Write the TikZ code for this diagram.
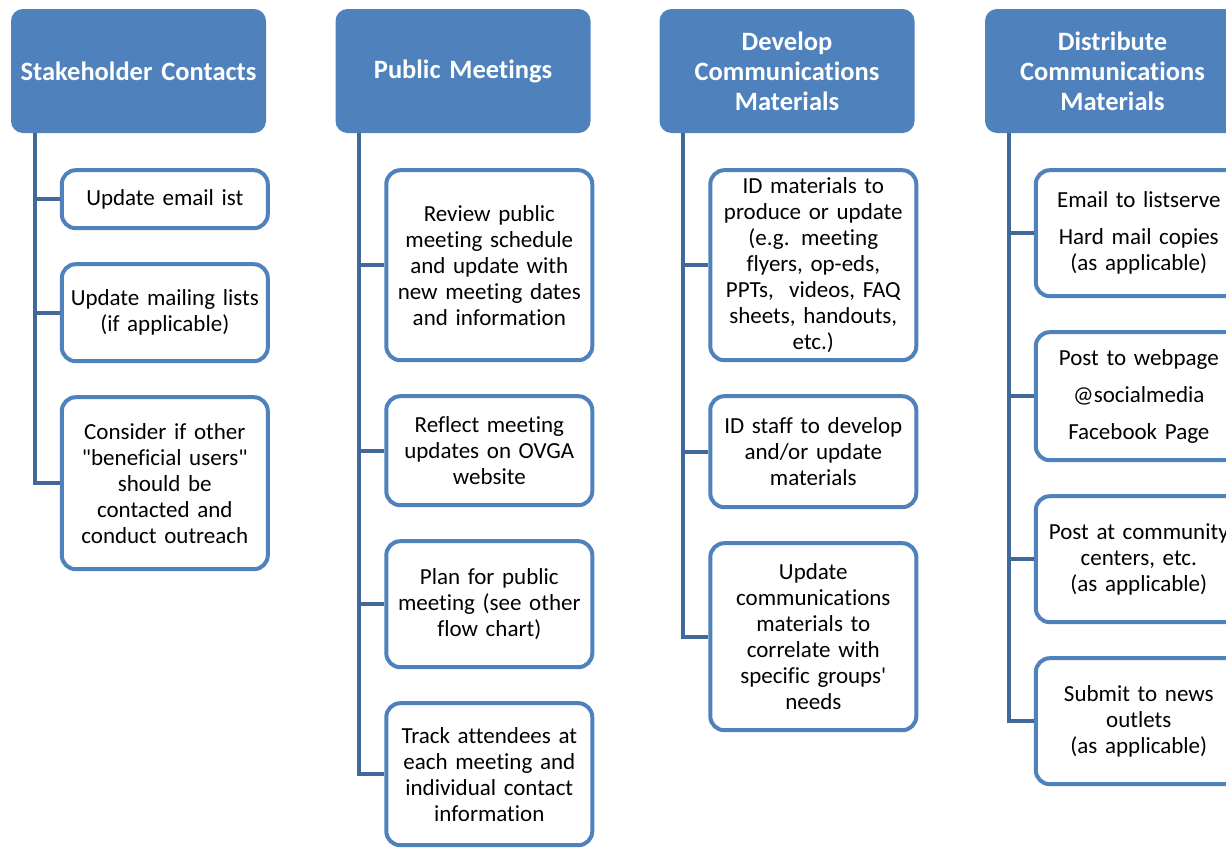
\documentclass[tikz,border=0pt]{standalone}
\usepackage{fontspec}
\setmainfont{Carlito}[Ligatures={NoCommon}]
\usepackage{tikz}
\usetikzlibrary{positioning}
\definecolor{hdrblue}{HTML}{4F81BD}
\definecolor{boxblue}{HTML}{4F81BD}
\definecolor{trunkblue}{HTML}{41699B}

\begin{document}
\begin{tikzpicture}[x=1pt, y=-1pt,
	header/.style={rectangle, rounded corners=12pt, fill=hdrblue, text=white, minimum width=255pt, minimum height=124pt, text width=252pt, align=center, inner sep=0pt, font=\fontsize{26.5}{30}\selectfont\bfseries},
	task/.style={rectangle, rounded corners=14pt, draw=boxblue, line width=4pt, fill=white, minimum width=206pt, text width=204pt, align=center, inner sep=0pt, font=\fontsize{23}{26}\selectfont},
	trunk/.style={draw=trunkblue, line width=4pt},
	node distance=32pt]
	\useasboundingbox (0,0) rectangle (1226,849);
	\clip (0,0) rectangle (1226,849);

	\node[header](h_sc) at (138.5,71){Stakeholder Contacts};
	\node[header](h_pm) at (463,71){Public Meetings};
	\node[header](h_dev) at (787,71){Develop\\Communications\\Materials};
	\node[header](h_dist) at (1112.5,71){Distribute\\Communications\\Materials};

	% stakeholder contacts
	\node[task, minimum height=58pt, below right=35pt and 49pt of h_sc.south west](sc_1){Update email ist};
	\node[task, minimum height=97pt, below=of sc_1](sc_2){Update mailing lists\\(if applicable)};
	\node[task, minimum height=172pt, below=of sc_2](sc_3){Consider if other\\\textquotedbl beneficial users\textquotedbl\\should be\\contacted and\\conduct outreach};

	\coordinate (t_sc) at ([xshift=24pt]h_sc.south west);
	\draw[trunk] (t_sc) |- (sc_3.west);
	\foreach \b in {sc_1, sc_2}
		\draw[trunk] (t_sc |- \b.west) -- (\b.west);

	% public meetings
	\node[task, minimum height=190pt, below right=35pt and 49pt of h_pm.south west](pm_1){Review public\\meeting schedule\\and update with\\new meeting dates\\and information};
	\node[task, minimum height=109pt, below=of pm_1](pm_2){Reflect meeting\\updates on OVGA\\website};
	\node[task, minimum height=126pt, below=of pm_2](pm_3){Plan for public\\meeting (see other\\flow chart)};
	\node[task, minimum height=142pt, below=of pm_3](pm_4){Track attendees at\\each meeting and\\individual contact\\information};

	\coordinate (t_pm) at ([xshift=24pt]h_pm.south west);
	\draw[trunk] (t_pm) |- (pm_4.west);
	\foreach \b in {pm_1, pm_2, pm_3}
		\draw[trunk] (t_pm |- \b.west) -- (\b.west);

	% develop materials
	\node[task, minimum height=190pt, below right=35pt and 49pt of h_dev.south west](dev_1){ID materials to\\produce or update\\(e.g. meeting\\flyers, op-eds,\\PPTs,~ videos, FAQ\\sheets, handouts,\\etc.)};
	\node[task, minimum height=111pt, below=of dev_1](dev_2){ID staff to develop\\and/or update\\materials};
	\node[task, minimum height=187pt, below=of dev_2](dev_3){Update\\communications\\materials to\\correlate with\\specific groups\textquotesingle\\needs};

	\coordinate (t_dev) at ([xshift=24pt]h_dev.south west);
	\draw[trunk] (t_dev) |- (dev_3.west);
	\foreach \b in {dev_1, dev_2}
		\draw[trunk] (t_dev |- \b.west) -- (\b.west);

	% distribute materials
	\node[task, minimum height=126pt, below right=35pt and 49pt of h_dist.south west](dist_1){Email to listserve\\[11pt]Hard mail copies\\(as applicable)};
	\node[task, minimum height=128pt, below=of dist_1](dist_2){Post to webpage\\[11pt]@socialmedia\\[11pt]Facebook Page};
	\node[task, minimum height=126pt, below=of dist_2](dist_3){Post at community\\centers, etc.\\(as applicable)};
	\node[task, minimum height=126pt, below=of dist_3](dist_4){Submit to news\\outlets\\(as applicable)};

	\coordinate (t_dist) at ([xshift=24pt]h_dist.south west);
	\draw[trunk] (t_dist) |- (dist_4.west);
	\foreach \b in {dist_1, dist_2, dist_3}
		\draw[trunk] (t_dist |- \b.west) -- (\b.west);
\end{tikzpicture}
\end{document}
